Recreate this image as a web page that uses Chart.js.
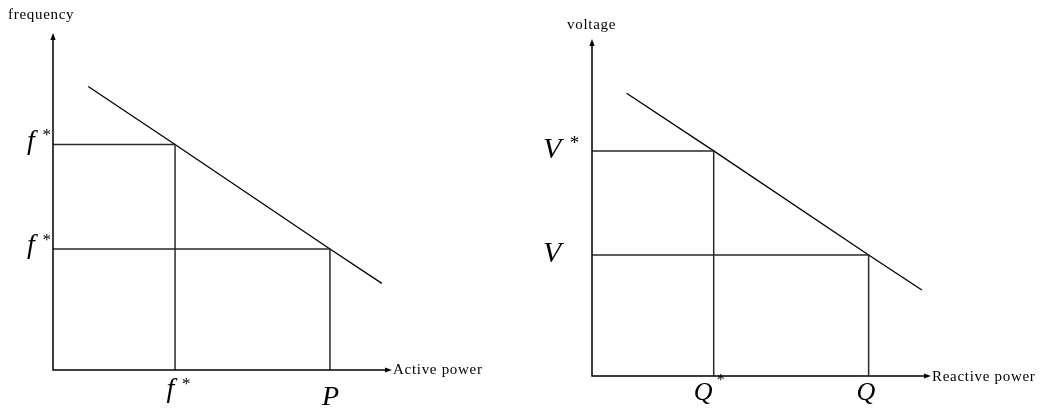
<!DOCTYPE html>
<html>
<head>
<meta charset="utf-8">
<script src="https://cdn.jsdelivr.net/npm/chart.js@4.4.1/dist/chart.umd.min.js"></script>
<style>
  html, body { margin: 0; padding: 0; background: #fff; }
  #wrap { position: relative; width: 1043px; height: 413px; }
  canvas { position: absolute; top: 0; }
  #fp { left: 0; }
  #vq { left: 521px; }
</style>
</head>
<body>
<div id="wrap">
  <canvas id="fp" width="521" height="413"></canvas>
  <canvas id="vq" width="522" height="413"></canvas>
</div>
<script>
// frequency vs active power droop (axes run 0..10)
const fpEnds = [[1.04, 8.41], [9.7, 2.57]];
const fpPoints = [[3.6, 6.69], [8.17, 3.59]];
const fpYLabels = ['f*', 'f*'];
const fpXLabels = ['f*', 'P'];

// voltage vs reactive power droop
const vqEnds = [[1.02, 8.39], [9.73, 2.55]];
const vqPoints = [[3.59, 6.68], [8.16, 3.59]];
const vqYLabels = ['V*', 'V'];
const vqXLabels = ['Q*', 'Q'];

const SERIF = '"Liberation Serif", "Times New Roman", serif';

function arrowHead(ctx, x, y, dx, dy) {
  const len = 7, half = 2.6;
  ctx.beginPath();
  ctx.moveTo(x, y);
  ctx.lineTo(x - dx * len - dy * half, y - dy * len + dx * half);
  ctx.lineTo(x - dx * len + dy * half, y - dy * len - dx * half);
  ctx.closePath();
  ctx.fill();
}

// italic symbol with an optional raised star, e.g. "f*"
function mathLabel(ctx, text, x, base, size, align, rise) {
  const main = text.replace('*', '');
  ctx.font = `italic ${size}px ${SERIF}`;
  const m = ctx.measureText(main);
  const w = m.actualBoundingBoxLeft + m.actualBoundingBoxRight;
  const visLeft = align === 'right' ? x - w : x - w / 2;
  ctx.textAlign = 'left';
  ctx.fillText(main, visLeft + m.actualBoundingBoxLeft, base);
  if (text.includes('*')) {
    ctx.font = `${Math.round(size * 0.62)}px ${SERIF}`;
    ctx.fillText('*', visLeft + w + size * 0.16, base - size * rise);
  }
}

const droopAxes = {
  id: 'droopAxes',
  afterDraw(chart, args, o) {
    const { ctx, chartArea: a, scales: { x, y } } = chart;
    ctx.save();
    ctx.strokeStyle = '#000';
    ctx.fillStyle = '#000';
    ctx.lineWidth = 1.5;
    ctx.beginPath();
    ctx.moveTo(a.left, a.top + 6);
    ctx.lineTo(a.left, a.bottom);
    ctx.lineTo(a.right - 6, a.bottom);
    ctx.stroke();
    arrowHead(ctx, a.left, a.top, 0, -1);
    arrowHead(ctx, a.right, a.bottom, 1, 0);

    ctx.font = `15px ${SERIF}`;
    ctx.letterSpacing = '0.7px';
    ctx.textAlign = 'left';
    ctx.textBaseline = 'alphabetic';
    ctx.fillText(o.xTitle, a.right + 1, a.bottom + o.xTitleDy);
    ctx.fillText(o.yTitle, o.yTitleX, o.yTitleY);
    ctx.letterSpacing = '0px';

    o.points.forEach((p, i) => {
      const py = y.getPixelForValue(p[1]);
      mathLabel(ctx, o.yLabels[i], a.left - o.yGap, py + o.yDy, o.yFont, 'right', o.yRise);
      const px = x.getPixelForValue(p[0]);
      const s = o.xShift[i];
      mathLabel(ctx, o.xLabels[i], px + s[0], s[1], o.xFont, 'center', o.xRise);
    });
    ctx.restore();
  }
};

function droopChart(id, ends, points, padding, axes) {
  const line = [ends[0], ...points, ends[1]].map(([x, y]) => ({ x, y }));
  const guides = points.map(([px, py]) => ({
    data: [{ x: 0, y: py }, { x: px, y: py }, { x: px, y: 0 }],
    borderColor: '#2a2a2a',
    borderWidth: 1.5
  }));
  return new Chart(document.getElementById(id), {
    type: 'scatter',
    data: {
      datasets: [
        ...guides,
        { data: line, borderColor: '#000', borderWidth: 1.3 }
      ].map(d => ({ ...d, showLine: true, pointRadius: 0, clip: false }))
    },
    options: {
      responsive: false,
      animation: false,
      events: [],
      layout: { padding },
      scales: {
        x: { type: 'linear', min: 0, max: 10, display: false },
        y: { type: 'linear', min: 0, max: 10, display: false }
      },
      plugins: {
        legend: { display: false },
        tooltip: { enabled: false },
        droopAxes: { points, ...axes }
      }
    },
    plugins: [droopAxes]
  });
}

droopChart('fp', fpEnds, fpPoints,
  { left: 53, right: 129, top: 33, bottom: 43 },
  {
    xTitle: 'Active power', xTitleDy: 4,
    yTitle: 'frequency', yTitleX: 8, yTitleY: 19,
    yLabels: fpYLabels, xLabels: fpXLabels,
    yFont: 28, yGap: 15, yDy: 4, yRise: 0.3,
    xFont: 28, xShift: [[-3, 397], [0, 405]], xRise: 0.3
  });

droopChart('vq', vqEnds, vqPoints,
  { left: 71, right: 112, top: 39, bottom: 37 },
  {
    xTitle: 'Reactive power', xTitleDy: 5,
    yTitle: 'voltage', yTitleX: 46, yTitleY: 29,
    yLabels: vqYLabels, xLabels: vqXLabels,
    yFont: 30, yGap: 27, yDy: 7, yRise: 0.3,
    xFont: 26, xShift: [[-10, 400], [-2, 400]], xRise: 0.58
  });
</script>
</body>
</html>
